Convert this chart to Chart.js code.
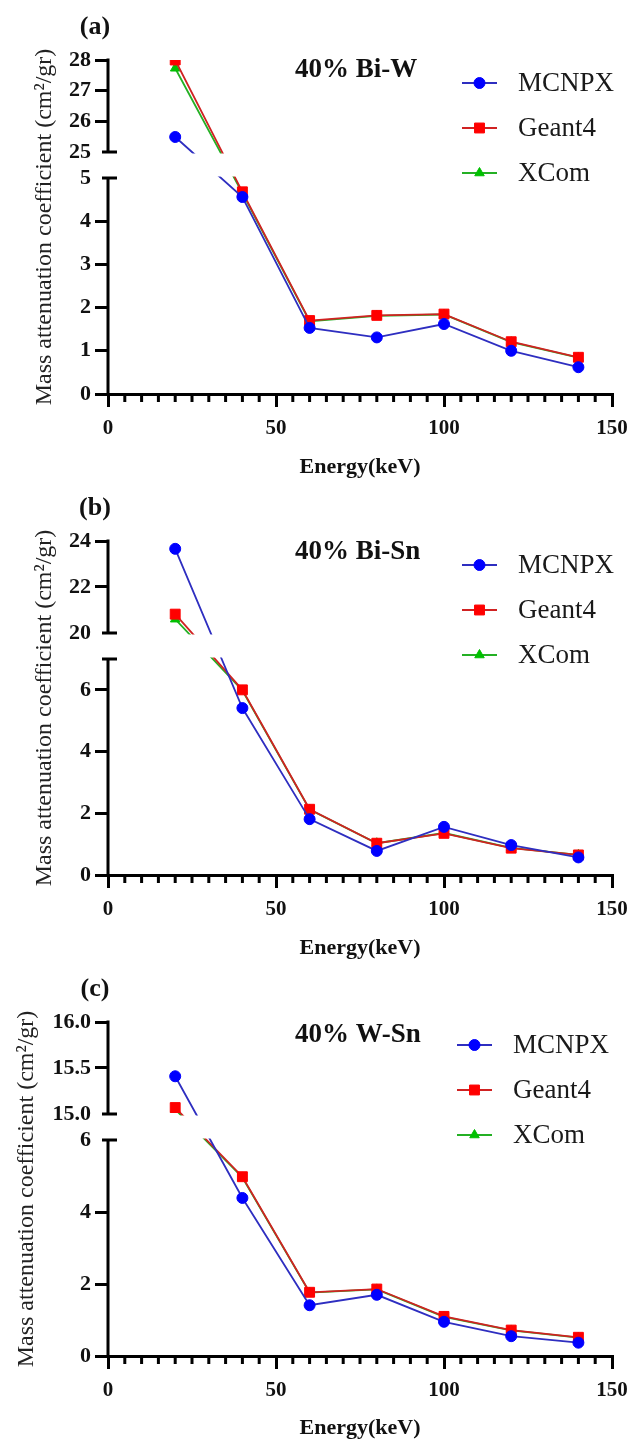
<!DOCTYPE html>
<html>
<head>
<meta charset="utf-8">
<title>Mass attenuation coefficient</title>
<script src="https://cdn.jsdelivr.net/npm/chart.js@4.4.1/dist/chart.umd.min.js"></script>
<style>
  html, body { margin: 0; padding: 0; background: #fff; overflow: hidden; }
  canvas { display: block; }
</style>
</head>
<body>
<canvas id="chartA" width="633" height="481"></canvas>
<canvas id="chartB" width="633" height="481"></canvas>
<canvas id="chartC" width="633" height="480"></canvas>
<script>
const energies = [20, 40, 60, 80, 100, 120, 140];
const seriesNames = ['MCNPX', 'Geant4', 'XCom'];
const xTickLabels = [0, 50, 100, 150];

// 40% Bi-W
const biW_mcnpx = [25.49, 4.56, 1.53, 1.31, 1.62, 1.00, 0.62];
const biW_geant4 = [28.0, 4.68, 1.70, 1.82, 1.85, 1.21, 0.85];
const biW_xcom = [27.73, 4.65, 1.68, 1.81, 1.84, 1.20, 0.84];
const biW_yTicks = [0, 1, 2, 3, 4, 5, 25, 26, 27, 28];

// 40% Bi-Sn
const biSn_mcnpx = [23.66, 5.41, 1.81, 0.78, 1.56, 0.97, 0.57];
const biSn_geant4 = [20.82, 6.0, 2.13, 1.03, 1.35, 0.87, 0.65];
const biSn_xcom = [20.6, 5.98, 2.12, 1.03, 1.36, 0.88, 0.65];
const biSn_yTicks = [0, 2, 4, 6, 20, 22, 24];

// 40% W-Sn
const wSn_mcnpx = [15.41, 4.39, 1.41, 1.70, 0.95, 0.55, 0.37];
const wSn_geant4 = [15.07, 4.98, 1.77, 1.86, 1.10, 0.72, 0.52];
const wSn_xcom = [15.05, 4.96, 1.76, 1.85, 1.09, 0.71, 0.51];
const wSn_yTicks = [0, 2, 4, 6, 15, 15.5, 16];

const panels = [
  { id: 'chartA', tag: '(a)', title: '40% Bi-W', series: [biW_mcnpx, biW_geant4, biW_xcom],
    ticks: biW_yTicks, low: [0, 5], high: [25, 28], titleY: 70, legendX: 462, legendY: 83, yTitlePad: 30 },
  { id: 'chartB', tag: '(b)', title: '40% Bi-Sn', series: [biSn_mcnpx, biSn_geant4, biSn_xcom],
    ticks: biSn_yTicks, low: [0, 7], high: [20, 24], titleY: 71, legendX: 462, legendY: 84, yTitlePad: 30 },
  { id: 'chartC', tag: '(c)', title: '40% W-Sn', series: [wSn_mcnpx, wSn_geant4, wSn_xcom],
    ticks: wSn_yTicks, low: [0, 6], high: [15, 16], titleY: 73, legendX: 457, legendY: 83, yTitlePad: 12, decimals: 1 }
];

const styles = [
  { line: '#2e2ec0', fill: '#0000ff', point: 'circle', radius: 5.5 },
  { line: '#d02222', fill: '#ff0000', point: 'rect', radius: 7 },
  { line: '#24b024', fill: '#00c000', point: 'triangle', radius: 5.5 }
];

const SERIF = "'Liberation Serif', 'Times New Roman', serif";
const PLOT_TOP = 60;
const AXIS_Y = 394;
const LOW_FRAC = 216 / 334;   // share of plot height taken by the lower segment
const HIGH_FRAC = 242 / 334;  // where the upper segment begins

// break settings looked up by canvas id
const axisBreaks = {};

// y axis with a gap between a lower and an upper value range
class BrokenLinearScale extends Chart.LinearScale {
  brk() { return axisBreaks[this.chart.canvas.id]; }

  buildTicks() {
    const b = this.brk();
    this.min = b.low[0];
    this.max = b.high[1];
    this.start = this.min;
    this.end = this.max;
    return b.ticks.map(v => ({ value: v }));
  }

  getPixelForValue(v) {
    if (v === null || v === undefined) return NaN;
    const b = this.brk();
    const h = this.bottom - this.top;
    const lowTop = this.bottom - h * LOW_FRAC;
    const highBottom = this.bottom - h * HIGH_FRAC;
    if (v <= b.low[1]) {
      return this.bottom - (v - b.low[0]) / (b.low[1] - b.low[0]) * (this.bottom - lowTop);
    }
    if (v >= b.high[0]) {
      return highBottom - (v - b.high[0]) / (b.high[1] - b.high[0]) * (highBottom - this.top);
    }
    return lowTop - (v - b.low[1]) / (b.high[0] - b.low[1]) * (lowTop - highBottom);
  }

  getValueForPixel(p) {
    const b = this.brk();
    const h = this.bottom - this.top;
    const lowTop = this.bottom - h * LOW_FRAC;
    const highBottom = this.bottom - h * HIGH_FRAC;
    if (p >= lowTop) return b.low[0] + (this.bottom - p) / (this.bottom - lowTop) * (b.low[1] - b.low[0]);
    if (p <= highBottom) return b.high[0] + (highBottom - p) / (highBottom - this.top) * (b.high[1] - b.high[0]);
    return b.low[1] + (lowTop - p) / (lowTop - highBottom) * (b.high[0] - b.low[1]);
  }
}
BrokenLinearScale.id = 'brokenLinear';
BrokenLinearScale.defaults = { ticks: { callback: (v) => String(v) } };
Chart.register(BrokenLinearScale);

// white gap, split y axis, break caps, minor x ticks, labels and legend
const panelDecor = {
  id: 'panelDecor',
  afterDatasetsDraw(chart) {
    const b = axisBreaks[chart.canvas.id];
    const ys = chart.scales.y;
    const xs = chart.scales.x;
    const area = chart.chartArea;
    const ctx = chart.ctx;
    const yHigh = ys.getPixelForValue(b.high[0]);
    const yLow = ys.getPixelForValue(b.low[1]);
    const yTop = ys.getPixelForValue(b.high[1]);

    ctx.save();
    ctx.fillStyle = '#fff';
    ctx.fillRect(area.left + 2, yHigh + 1.5, area.right - area.left, yLow - yHigh - 3);

    ctx.strokeStyle = '#000';
    ctx.lineWidth = 3;
    ctx.beginPath();
    ctx.moveTo(area.left, yTop - 1.5);
    ctx.lineTo(area.left, yHigh + 1.5);
    ctx.moveTo(area.left, yLow - 1.5);
    ctx.lineTo(area.left, area.bottom);
    [yHigh, yLow].forEach(p => {
      ctx.moveTo(area.left - 6, p);
      ctx.lineTo(area.left + 9, p);
    });
    xs.ticks.forEach(t => {
      if (t.value % 50 === 0) return;
      const px = xs.getPixelForValue(t.value);
      ctx.moveTo(px, area.bottom);
      ctx.lineTo(px, area.bottom + 8);
    });
    ctx.stroke();
    ctx.restore();
  },
  afterDraw(chart) {
    const p = panels.find(q => q.id === chart.canvas.id);
    const ctx = chart.ctx;
    ctx.save();
    ctx.fillStyle = '#111';
    ctx.textBaseline = 'middle';
    ctx.textAlign = 'center';
    ctx.font = 'bold 26px ' + SERIF;
    ctx.fillText(p.tag, 95, 27);
    ctx.textAlign = 'left';
    ctx.font = 'bold 27px ' + SERIF;
    ctx.fillText(p.title, 295, p.titleY);

    ctx.font = '27px ' + SERIF;
    chart.data.datasets.forEach((ds, i) => {
      const y = p.legendY + i * 45;
      ctx.strokeStyle = ds.borderColor;
      ctx.lineWidth = 1.8;
      ctx.beginPath();
      ctx.moveTo(p.legendX, y);
      ctx.lineTo(p.legendX + 35, y);
      ctx.stroke();
      ctx.fillStyle = ds.pointBackgroundColor;
      ctx.strokeStyle = ds.pointBorderColor;
      ctx.lineWidth = 1;
      Chart.helpers.drawPoint(ctx, { pointStyle: ds.pointStyle, radius: ds.pointRadius, rotation: 0, borderWidth: 1 },
        p.legendX + 17.5, y);
      ctx.fillStyle = '#1a1a1a';
      ctx.fillText(ds.label, p.legendX + 56, y + 1);
    });
    ctx.restore();
  }
};

panels.forEach(p => {
  axisBreaks[p.id] = { low: p.low, high: p.high, ticks: p.ticks };
  const canvas = document.getElementById(p.id);
  const capValues = [p.low[1], p.high[0]];

  const datasets = p.series.map((values, i) => ({
    label: seriesNames[i],
    data: energies.map((e, j) => ({ x: e, y: values[j] })),
    borderColor: styles[i].line,
    borderWidth: 1.8,
    pointStyle: styles[i].point,
    pointRadius: styles[i].radius,
    pointBackgroundColor: styles[i].fill,
    pointBorderColor: styles[i].fill,
    pointBorderWidth: 1,
    tension: 0
  }));

  new Chart(canvas, {
    type: 'line',
    data: { datasets },
    options: {
      responsive: false,
      animation: false,
      layout: { padding: { top: PLOT_TOP, right: 21, bottom: 0, left: 0 } },
      plugins: {
        legend: { display: false },
        tooltip: { enabled: false }
      },
      scales: {
        x: {
          type: 'linear',
          min: 0,
          max: 150,
          afterFit: (s) => {
            s.height = canvas.height - AXIS_Y;
            s.paddingLeft = 0;
            s.paddingRight = 0;
          },
          border: { display: true, color: '#000', width: 3 },
          grid: {
            drawOnChartArea: false,
            tickLength: 13,
            lineWidth: 3,
            tickColor: (c) => (c.tick && xTickLabels.includes(c.tick.value)) ? '#000' : 'rgba(0,0,0,0)'
          },
          ticks: {
            stepSize: 5,
            autoSkip: false,
            maxRotation: 0,
            padding: 9,
            color: '#111',
            font: { family: SERIF, size: 21, weight: 'bold' },
            callback: (v) => xTickLabels.includes(v) ? String(v) : ''
          },
          title: {
            display: true,
            text: 'Energy(keV)',
            color: '#111',
            font: { family: SERIF, size: 22, weight: 'bold' },
            padding: { top: 0, bottom: 0 }
          }
        },
        y: {
          type: 'brokenLinear',
          min: p.low[0],
          max: p.high[1],
          afterFit: (s) => { s.width = 108; },
          border: { display: false },
          grid: {
            drawOnChartArea: false,
            tickLength: 13,
            lineWidth: 3,
            tickColor: (c) => (c.tick && capValues.includes(c.tick.value)) ? 'rgba(0,0,0,0)' : '#000'
          },
          ticks: {
            padding: 4,
            color: '#111',
            font: { family: SERIF, size: 22, weight: 'bold' },
            callback: (v) => (p.decimals && v >= p.high[0]) ? v.toFixed(p.decimals) : String(v)
          },
          title: {
            display: true,
            text: 'Mass attenuation coefficient (cm²/gr)',
            color: '#222',
            font: { family: SERIF, size: 24 },
            padding: { top: p.yTitlePad, bottom: 0 }
          }
        }
      }
    },
    plugins: [panelDecor]
  });
});
</script>
</body>
</html>
